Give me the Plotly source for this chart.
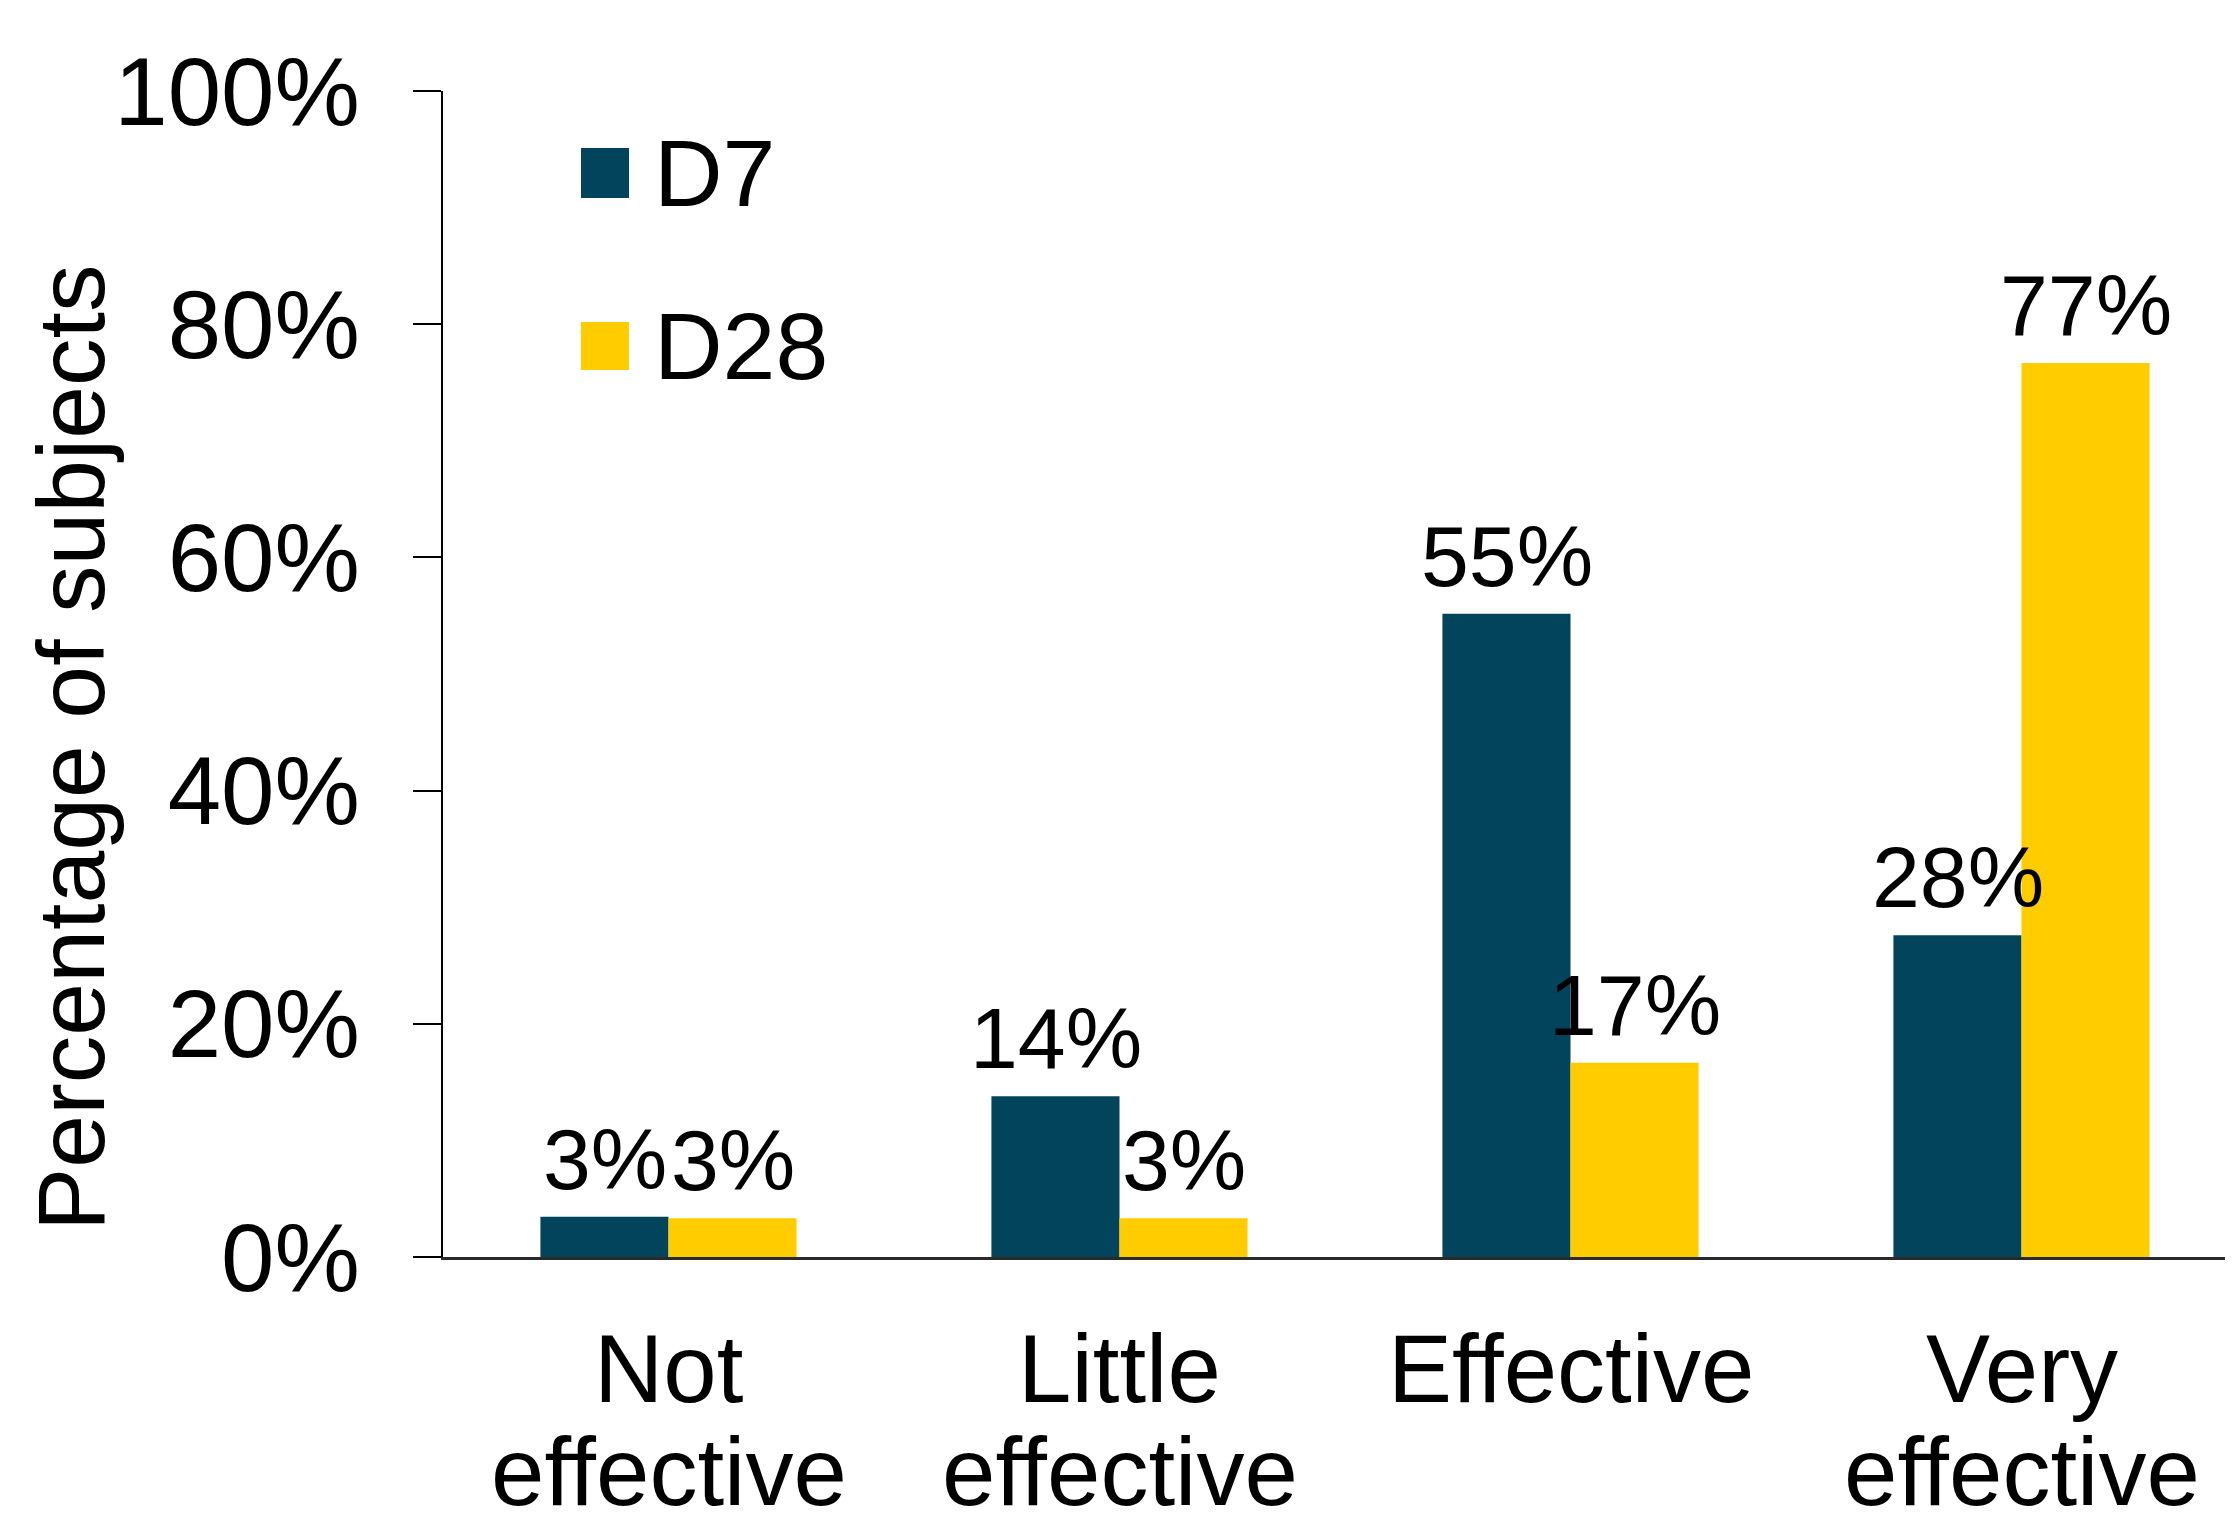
import plotly.graph_objects as go

categories = ["Not<br>effective", "Little<br>effective", "Effective", "Very<br>effective"]
series_names = ["D7", "D28"]
d7_values = [3.45, 13.79, 55.17, 27.59]
d28_values = [3.33, 3.33, 16.67, 76.67]
y_ticks = [0, 20, 40, 60, 80, 100]
y_ticktext = [f"{v}%" for v in y_ticks]
y_title = "Percentage of subjects"

colors = ["#03445D", "#FFCC00"]
FONT = "Liberation Sans, Arial, sans-serif"

W, H = 2225, 1510
ML, MR, MT, MB = 435, 0, 83, 261
PW = W - ML - MR
PH = H - MT - MB
CAT_W = 451
BAR_W = 128


def px_x(x):
    return (x - ML) / PW


def px_y(y):
    return (H - MB - y) / PH


fig = go.Figure()
for name, vals, col in zip(series_names, [d7_values, d28_values], colors):
    fig.add_trace(go.Bar(
        x=categories, y=vals, name=name,
        marker=dict(color=col, line=dict(width=0)),
        showlegend=False,
    ))

shapes = []
annotations = []

# data labels
for vals, sh in zip([d7_values, d28_values], [-BAR_W / 2, BAR_W / 2]):
    for c, v in zip(categories, vals):
        annotations.append(dict(xref="x", yref="y", x=c, y=v, xshift=sh, yshift=8,
                                text=f"{v:.0f}%", showarrow=False,
                                xanchor="center", yanchor="bottom",
                                font=dict(family=FONT, size=86, color="black")))

# category labels, one annotation per line for tighter line spacing
line_centers = [1360, 1463]
for c in categories:
    for line, yc in zip(c.split("<br>"), line_centers):
        annotations.append(dict(xref="x", yref="paper", x=c, y=px_y(yc),
                                text=line, showarrow=False,
                                xanchor="center", yanchor="middle",
                                font=dict(family=FONT, size=96, color="black")))

# legend drawn manually (large swatches)
legend_rows = [(140, 190), (314, 362)]
for (y0, y1), name, col in zip(legend_rows, series_names, colors):
    shapes.append(dict(type="rect", xref="paper", yref="paper",
                       x0=px_x(573), x1=px_x(621), y0=px_y(y1), y1=px_y(y0),
                       fillcolor=col, line=dict(width=0)))
    annotations.append(dict(xref="paper", yref="paper", x=px_x(644), y=px_y((y0 + y1) / 2),
                            text=name, showarrow=False, xanchor="left", yanchor="middle",
                            font=dict(family=FONT, size=95, color="black")))

annotations.append(dict(xref="paper", yref="paper", x=px_x(63), y=px_y(740),
                        text=y_title, showarrow=False, textangle=-90,
                        xanchor="center", yanchor="middle",
                        font=dict(family=FONT, size=95, color="black")))

fig.update_layout(
    width=W, height=H,
    margin=dict(l=ML, r=MR, t=MT, b=MB, autoexpand=False),
    paper_bgcolor="white", plot_bgcolor="white",
    barmode="group", bargap=0.432, bargroupgap=0,
    shapes=shapes, annotations=annotations,
    xaxis=dict(
        type="category", range=[-0.5, -0.5 + PW / CAT_W],
        showline=True, linecolor="#2a2a2a", linewidth=3,
        ticks="", showgrid=False, zeroline=False,
        showticklabels=False,
    ),
    yaxis=dict(
        range=[0, 100], tickvals=y_ticks, ticktext=y_ticktext,
        showline=True, linecolor="black", linewidth=2,
        ticks="outside", ticklen=28, tickwidth=2, tickcolor="black",
        showgrid=False, zeroline=False,
        tickfont=dict(family=FONT, size=96, color="black"),
        ticklabelstandoff=34,
    ),
)

fig.write_html("out.html")
